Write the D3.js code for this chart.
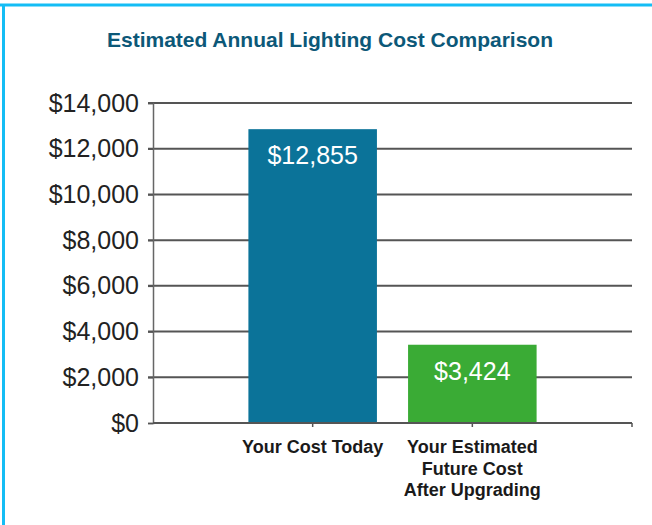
<!DOCTYPE html>
<html>
<head>
    <meta charset="utf-8" />
    <title>Estimated Annual Lighting Cost Comparison</title>
    <script src="https://cdn.jsdelivr.net/npm/d3@7"></script>
    <style>
        body { margin: 0; background: #fff; }
        svg { display: block; }
    </style>
</head>
<body>
    <svg width="652" height="525"></svg>
    <script>

        var categories = ["Your Cost Today", "Your Estimated|Future Cost|After Upgrading"];
        var values = [12855, 3424];
        var valueLabels = ["$12,855", "$3,424"];
        var barColors = ["#0b7399", "#3aab35"];
        var yTicks = [0, 2000, 4000, 6000, 8000, 10000, 12000, 14000];

        var svg = d3.select("svg"),
            width = +svg.attr("width"),
            height = +svg.attr("height");

        // frame
        svg.append("line").attr("x1", 0).attr("x2", width).attr("y1", 5).attr("y2", 5)
            .attr("stroke", "#14bdf5").attr("stroke-width", 3);
        svg.append("line").attr("x1", 3.5).attr("x2", 3.5).attr("y1", 4).attr("y2", height)
            .attr("stroke", "#14bdf5").attr("stroke-width", 3);

        svg.append("text")
            .attr("x", 330).attr("y", 47)
            .attr("text-anchor", "middle")
            .style("font-family", "'Liberation Sans', Arial, sans-serif")
            .style("font-weight", "bold")
            .style("font-size", "21px")
            .style("fill", "#0c5878")
            .text("Estimated Annual Lighting Cost Comparison");

        var x0 = 153, x1 = 632;
        var y = d3.scaleLinear().domain([0, 14000]).range([423, 103]);
        // three slots, bars sit on slot boundaries 1 and 2
        var x = d3.scaleLinear().domain([0, 3]).range([x0, x1]);
        var barW = (x(1) - x(0)) * 0.805;

        // gridlines
        svg.append("g")
            .selectAll("line")
            .data(yTicks.filter(function (d) { return d > 0; }))
            .enter().append("line")
            .attr("x1", x0 - 5).attr("x2", x1)
            .attr("y1", function (d) { return y(d); })
            .attr("y2", function (d) { return y(d); })
            .attr("stroke", "#555").attr("stroke-width", 2);

        // y axis
        var yAxis = d3.axisLeft(y)
            .tickValues(yTicks)
            .tickSize(5)
            .tickPadding(9)
            .tickFormat(function (d) { return "$" + d3.format(",")(d); });

        var gy = svg.append("g").attr("transform", "translate(" + x0 + ",0)").call(yAxis);
        gy.select(".domain").attr("stroke", "#666").attr("stroke-width", 1.5);
        gy.selectAll(".tick line").attr("stroke", "#555").attr("stroke-width", 1.5);
        gy.selectAll(".tick text")
            .style("font-family", "'Liberation Sans', Arial, sans-serif")
            .style("font-size", "25px")
            .style("fill", "#222");

        // bars
        svg.append("g")
            .selectAll("rect")
            .data(values)
            .enter().append("rect")
            .attr("x", function (d, i) { return x(i + 1) - barW / 2; })
            .attr("width", barW)
            .attr("y", function (d) { return y(d); })
            .attr("height", function (d) { return y(0) - y(d); })
            .attr("fill", function (d, i) { return barColors[i]; });

        svg.append("g")
            .selectAll("text")
            .data(values)
            .enter().append("text")
            .attr("x", function (d, i) { return x(i + 1); })
            .attr("y", function (d) { return y(d) + 35; })
            .attr("text-anchor", "middle")
            .style("font-family", "'Liberation Sans', Arial, sans-serif")
            .style("font-size", "25px")
            .style("fill", "#fff")
            .text(function (d, i) { return valueLabels[i]; });

        // x axis
        svg.append("line")
            .attr("x1", x0).attr("x2", x1)
            .attr("y1", y(0)).attr("y2", y(0))
            .attr("stroke", "#555").attr("stroke-width", 2);

        svg.append("g")
            .selectAll("line")
            .data([1, 2, 3])
            .enter().append("line")
            .attr("x1", function (d) { return x(d); })
            .attr("x2", function (d) { return x(d); })
            .attr("y1", y(0)).attr("y2", y(0) + 4)
            .attr("stroke", "#555").attr("stroke-width", 1.5);

        var cat = svg.append("g")
            .selectAll("text")
            .data(categories)
            .enter().append("text")
            .attr("text-anchor", "middle")
            .style("font-family", "'Liberation Sans', Arial, sans-serif")
            .style("font-weight", "bold")
            .style("font-size", "18px")
            .style("fill", "#1a1a1a");

        cat.each(function (d, i) {
            var t = d3.select(this);
            d.split("|").forEach(function (line, j) {
                t.append("tspan")
                    .attr("x", x(i + 1))
                    .attr("y", 453 + j * 21.5)
                    .text(line);
            });
        });

    </script>
</body>
</html>
